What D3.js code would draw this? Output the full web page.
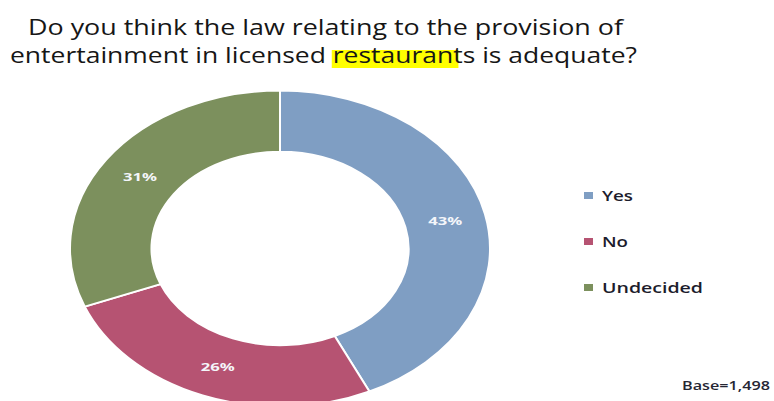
<!DOCTYPE html>
<html lang="en">
<head>
  <meta charset="UTF-8" />
  <title>Entertainment in licensed restaurants</title>
  <script src="https://d3js.org/d3.v7.min.js"></script>
  <style>
    body { margin: 0; background: #fff; }
    svg { display: block; font-family: "Open Sans", "Noto Sans", sans-serif; }
  </style>
</head>
<body>
  <svg id="chart" width="774" height="401"></svg>

  <script>
    // survey answers
    const categories = ["Yes", "No", "Undecided"];
    const shares = [43, 26, 31];
    const colors = ["#7f9ec3", "#b65372", "#7c905d"];
    const baseNote = "Base=1,498";

    const svg = d3.select("#chart");

    // Title (two lines, one word highlighted)
    const title = svg.append("g").attr("fill", "#161616").style("font-size", "21px");

    title.append("text")
      .attr("x", 28).attr("y", 35)
      .attr("textLength", 595).attr("lengthAdjust", "spacingAndGlyphs")
      .text("Do you think the law relating to the provision of");

    const hl = title.append("rect").attr("fill", "#ffff00");
    const line2 = title.append("text")
      .attr("x", 10).attr("y", 63)
      .attr("textLength", 627).attr("lengthAdjust", "spacingAndGlyphs")
      .text("entertainment in licensed restaurants is adequate?");

    const node = line2.node();
    const startIdx = node.textContent.indexOf("restaurant");
    const tIdx = startIdx + "restauran".length;
    const x0 = node.getStartPositionOfChar(startIdx).x;
    const tBox = node.getExtentOfChar(tIdx);
    hl.attr("x", x0 - 1).attr("y", 50)
      .attr("width", tBox.x + tBox.width * 0.55 - x0 + 1).attr("height", 18);

    // Donut, drawn as a circle and stretched sideways like the source
    const cx = 280, cy = 248.5, ry = 158, stretch = 210 / 158;

    const pie = d3.pie().sort(null).value(d => d)(shares);
    const arc = d3.arc().innerRadius(96.7).outerRadius(ry);

    const donut = svg.append("g")
      .attr("transform", `translate(${cx},${cy}) scale(${stretch},1)`);

    donut.selectAll("path")
      .data(pie)
      .join("path")
      .attr("d", arc)
      .attr("fill", (d, i) => colors[i])
      .attr("stroke", "#fff")
      .attr("stroke-width", 2)
      .attr("vector-effect", "non-scaling-stroke");

    // percent labels
    svg.append("g").selectAll("text")
      .data(pie)
      .join("text")
      .attr("x", d => cx + arc.centroid(d)[0] * stretch)
      .attr("y", d => cy + arc.centroid(d)[1] + 4)
      .attr("text-anchor", "middle")
      .attr("fill", "#f4f6fa")
      .style("font-size", "11px")
      .style("font-weight", "bold")
      .attr("textLength", 34).attr("lengthAdjust", "spacingAndGlyphs")
      .text(d => d.data + "%");

    // Legend
    const legendWidths = [31, 26, 101];
    const legend = svg.append("g");
    const rows = legend.selectAll("g")
      .data(categories)
      .join("g")
      .attr("transform", (d, i) => `translate(584,${201 + i * 46})`);

    rows.append("rect")
      .attr("x", 0).attr("y", -9)
      .attr("width", 9).attr("height", 7)
      .attr("fill", (d, i) => colors[i]);

    rows.append("text")
      .attr("x", 18).attr("y", 0)
      .attr("fill", "#1c1c2c")
      .style("font-size", "15px")
      .style("font-weight", 600)
      .attr("textLength", (d, i) => legendWidths[i])
      .attr("lengthAdjust", "spacingAndGlyphs")
      .text(d => d);

    svg.append("text")
      .attr("x", 682).attr("y", 390)
      .attr("fill", "#262633")
      .style("font-size", "13px")
      .style("font-weight", 600)
      .attr("textLength", 88).attr("lengthAdjust", "spacingAndGlyphs")
      .text(baseNote);
  </script>
</body>
</html>
